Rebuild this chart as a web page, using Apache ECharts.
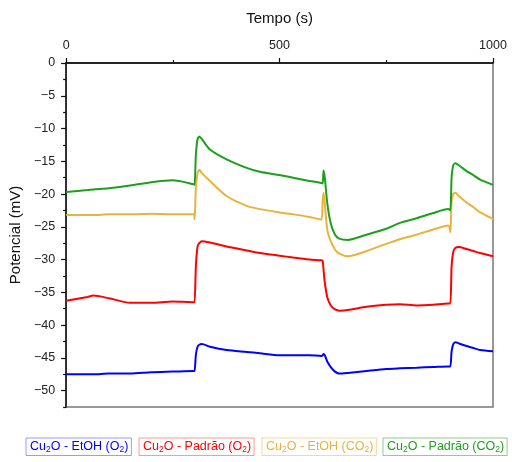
<!DOCTYPE html>
<html>
<head>
<meta charset="utf-8">
<script src="https://cdn.jsdelivr.net/npm/echarts@6/dist/echarts.min.js"></script>
<style>
	html, body { margin: 0; padding: 0; background: #fff; }
	#chart { width: 512px; height: 462px; }
</style>
</head>
<body>
<div id="chart"></div>
<script>
// tempo (s)
var tempo = [0, 50, 64, 100, 150, 200, 250, 299, 301, 304, 308, 312, 318, 337, 376, 423, 454, 500, 532, 570,
	598, 601, 603, 606, 612, 620, 630, 640, 660, 704, 750, 782, 821, 860, 895, 900, 903, 907, 912, 920,
	938, 954, 970, 1000];
// potencial (mV) de cada amostra
var padrao_co2 = [-19.7, -19.4, -19.3, -19.1, -18.7, -18.2, -17.9, -18.5, -18.6, -14.0, -11.6, -11.2, -11.6, -13.2, -14.7, -16.0, -16.6, -17.1, -17.5, -18.0,
	-18.3, -18.4, -16.4, -17.5, -21.5, -24.5, -26.2, -26.8, -27.0, -26.2, -25.3, -24.4, -23.7, -22.9, -22.3, -22.5, -17.5, -15.6, -15.3, -15.6,
	-16.5, -17.1, -17.8, -18.6];
var etoh_co2 = [-23.2, -23.2, -23.2, -23.1, -23.1, -23.0, -23.1, -23.1, -23.8, -19.0, -16.8, -16.3, -16.8, -18.0, -20.3, -21.8, -22.3, -22.8, -23.1, -23.5,
	-23.9, -21.0, -19.8, -21.5, -25.5, -27.2, -28.5, -29.1, -29.5, -28.7, -27.6, -26.9, -26.2, -25.4, -24.8, -25.8, -21.0, -20.0, -19.8, -20.3,
	-21.3, -22.0, -22.8, -23.8];
var padrao_o2 = [-36.3, -35.7, -35.5, -35.9, -36.6, -36.6, -36.4, -36.5, -36.5, -31.0, -28.0, -27.5, -27.2, -27.4, -28.0, -28.6, -29.0, -29.4, -29.7, -30.0,
	-30.1, -30.2, -31.5, -33.5, -35.8, -37.0, -37.6, -37.8, -37.7, -37.2, -36.9, -36.8, -37.0, -36.9, -36.7, -36.7, -31.0, -28.8, -28.2, -28.1,
	-28.4, -28.7, -29.0, -29.5];
var etoh_o2 = [-47.5, -47.5, -47.5, -47.4, -47.4, -47.2, -47.1, -47.0, -47.0, -44.5, -43.3, -43.0, -42.9, -43.3, -43.8, -44.1, -44.3, -44.6, -44.6, -44.6,
	-44.7, -44.6, -44.4, -44.6, -45.6, -46.4, -47.1, -47.4, -47.3, -47.0, -46.7, -46.6, -46.5, -46.4, -46.3, -46.3, -44.0, -42.9, -42.6, -42.8,
	-43.2, -43.5, -43.8, -44.0];

var nomes = ["Cu2O - EtOH (O2)", "Cu2O - Padrão (O2)", "Cu2O - EtOH (CO2)", "Cu2O - Padrão (CO2)"];
// texto com subscrito
var nomes_rich = [
	"{a|Cu}{b|2}{a|O - EtOH (O}{b|2}{a|)}",
	"{a|Cu}{b|2}{a|O - Padrão (O}{b|2}{a|)}",
	"{a|Cu}{b|2}{a|O - EtOH (CO}{b|2}{a|)}",
	"{a|Cu}{b|2}{a|O - Padrão (CO}{b|2}{a|)}"
];
var cores = ["#0000ff", "#ff0000", "#e9b23c", "#1e9e1e"];
var cores_borda = ["rgba(0,0,255,0.4)", "rgba(255,0,0,0.4)", "rgba(233,178,60,0.5)", "rgba(30,158,30,0.5)"];
var legenda_x = [26, 139, 262, 383];

var y_rotulos = [0, -5, -10, -15, -20, -25, -30, -35, -40, -45, -50];
var y_menores = [-2.5, -7.5, -12.5, -17.5, -22.5, -27.5, -32.5, -37.5, -42.5, -47.5, -52.5];

var series_dados = [etoh_o2, padrao_o2, etoh_co2, padrao_co2];

function par(valores) {
	return tempo.map(function (t, i) { return [t, valores[i]]; });
}

var fonte = "Liberation Sans, Arial, sans-serif";
var chart = echarts.init(document.getElementById("chart"));

var option = {
	animation: false,
	textStyle: { fontFamily: fonte },
	grid: {
		left: 66, right: 19, top: 63, bottom: 55,
		show: true,
		borderColor: "#777",
		borderWidth: 1.5
	},
	legend: nomes.map(function (n, i) {
		return {
			data: [n],
			left: legenda_x[i],
			top: 438,
			icon: "rect",
			itemWidth: 0,
			itemHeight: 0,
			padding: [2, 3, 1, -1],
			borderColor: cores_borda[i],
			borderWidth: 1,
			borderRadius: 0,
			formatter: function () { return nomes_rich[i]; },
			textStyle: {
				color: cores[i],
				rich: {
					a: { fontSize: 12.5, color: cores[i], lineHeight: 16, fontFamily: fonte },
					b: { fontSize: 8.5, color: cores[i], verticalAlign: "bottom", fontFamily: fonte }
				}
			}
		};
	}),
	xAxis: [
		{
			type: "value",
			position: "top",
			min: 0,
			max: 1000,
			interval: 500,
			name: "Tempo (s)",
			nameLocation: "middle",
			nameGap: 37,
			nameTextStyle: { fontSize: 15, color: "#111" },
			axisLine: { show: true, lineStyle: { color: "#111", width: 1.5 } },
			axisTick: { show: true, length: 5, lineStyle: { color: "#111", width: 1.2 } },
			minorTick: { show: true, splitNumber: 2, length: 3, lineStyle: { color: "#111", width: 1.2 } },
			axisLabel: { fontSize: 12.5, color: "#222", margin: 11, formatter: function (v) { return String(v); } },
			splitLine: { show: false }
		},
		{
			type: "value",
			position: "bottom",
			min: 0,
			max: 1000,
			axisLine: { show: true, lineStyle: { color: "#222", width: 1.5 } },
			axisTick: { show: false },
			axisLabel: { show: false },
			splitLine: { show: false }
		}
	],
	yAxis: [
		{
			type: "value",
			min: -52.5,
			max: 0,
			name: "Potencial (mV)",
			nameLocation: "middle",
			nameGap: 42,
			nameTextStyle: { fontSize: 15, color: "#111" },
			axisLine: { show: true, lineStyle: { color: "#111", width: 1.5 } },
			axisTick: { show: true, length: 5, customValues: y_rotulos, lineStyle: { color: "#111", width: 1.2 } },
			axisLabel: {
				fontSize: 12.5,
				color: "#222",
				margin: 11,
				customValues: y_rotulos,
				formatter: function (v) { return String(v).replace("-", "\u2212"); }
			},
			splitLine: { show: false }
		},
		{
			type: "value",
			min: -52.5,
			max: 0,
			position: "left",
			axisLine: { show: false },
			axisTick: { show: true, length: 3, customValues: y_menores, lineStyle: { color: "#111", width: 1.2 } },
			axisLabel: { show: false, customValues: y_menores },
			splitLine: { show: false }
		}
	],
	series: series_dados.map(function (d, i) {
		return {
			name: nomes[i],
			type: "line",
			data: par(d),
			showSymbol: false,
			smooth: 0.25,
			lineStyle: { color: cores[i], width: 2 },
			itemStyle: { color: cores[i] },
			z: 3
		};
	})
};

chart.setOption(option);
window.addEventListener("resize", chart.resize);
</script>
</body>
</html>
